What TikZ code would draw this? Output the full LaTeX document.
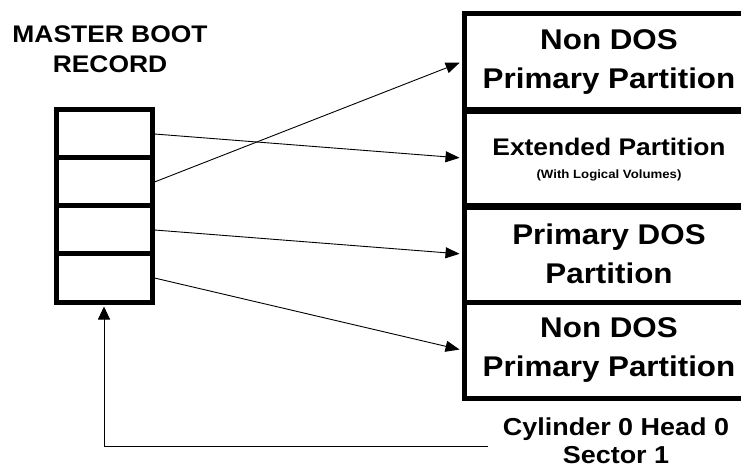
\documentclass[tikz,border=0pt]{standalone}
\usepackage{fontspec}
\newfontfamily\lab{Liberation Sans}[FakeStretch=1.1]
\usetikzlibrary{arrows.meta}
\tikzset{
  cell/.style={draw, line width=5pt, minimum width=96pt, minimum height=48pt, inner sep=0pt},
  part/.style={draw, line width=5pt, minimum width=290pt, minimum height=96pt, inner sep=0pt, align=center, font=\lab\bfseries\fontsize{28.5}{39}\selectfont},
  lbl/.style={align=center, inner sep=0pt},
  link/.style={line width=0.9pt, -{Triangle[length=14pt,width=11pt]}, shorten >=2pt},
}
\begin{document}
\begin{tikzpicture}[x=1pt,y=-1pt]
\useasboundingbox (0,0) rectangle (741,470);
\clip (0,0) rectangle (741,470);
% Master boot record
\node[lbl, font=\lab\bfseries\fontsize{24}{30}\selectfont] (mbrt) at (110,49) {MASTER BOOT\\RECORD};
\node[cell] (m1) at (104,134) {};
\node[cell] (m2) at (104,182) {};
\node[cell] (m3) at (104,230) {};
\node[cell] (m4) at (104,278) {};
% partitions
\node[part] (p1) at (609,62) {Non DOS\\Primary Partition};
\node[part, font=\lab\bfseries\fontsize{24}{23}\selectfont] (p2) at (609,160) {Extended Partition\\{\fontsize{12}{14}\selectfont (With Logical Volumes)}};
\node[part] (p3) at (609,254) {Primary DOS\\Partition};
\node[part] (p4) at (609,350) {Non DOS\\Primary Partition};
% arrows
\draw[link] (m1.east) -- (p2.west |- 0,158);
\draw[link] (m2.east) -- (p1.west);
\draw[link] (m3.east) -- (p3.west);
\draw[link] (m4.east) -- (p4.west);
% bottom
\node[lbl, font=\lab\bfseries\fontsize{24.5}{28}\selectfont] (cyl) at (616,441) {Cylinder 0 Head 0\\Sector 1};
\coordinate (cend) at (488,446);
\draw[line width=0.9pt, -{Triangle[length=13pt,width=12pt]}, shorten >=2pt] (cend) -- (cend -| m4.south) -- (m4.south);
\end{tikzpicture}
\end{document}
